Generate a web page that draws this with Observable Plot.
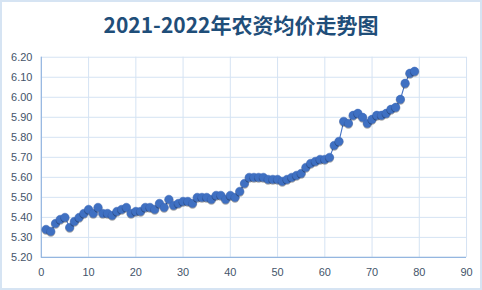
<!DOCTYPE html>
<html>
<head>
<meta charset="utf-8">
<script src="https://cdn.jsdelivr.net/npm/d3@7"></script>
<script src="https://cdn.jsdelivr.net/npm/@observablehq/plot@0.6"></script>
<style>
  html, body { margin: 0; padding: 0; background: #fff; }
  #wrap { position: relative; width: 482px; height: 290px; box-sizing: border-box; border: 2px solid #d6e4f3; overflow: hidden; }
  #title { position: absolute; left: 0; right: 0; top: 7px; text-align: center; font-family: "Noto Sans CJK SC", "Noto Sans", sans-serif; font-weight: bold; font-size: 21px; color: #1f4e79; line-height: 30px; }
  #chart { position: absolute; left: -2px; top: -2px; }
  #chart g[aria-label="dot"] circle { filter: drop-shadow(0.6px 1.2px 0.8px rgba(0,0,0,0.35)); }
</style>
</head>
<body>
<div id="wrap">
  <div id="title">2021-2022年农资均价走势图</div>
  <div id="chart"></div>
</div>
<script>
const periods = Array.from({length: 79}, (_, i) => i + 1);
const prices = [
  5.34, 5.33, 5.37, 5.39, 5.40, 5.35, 5.38, 5.40, 5.42, 5.44,
  5.42, 5.45, 5.42, 5.42, 5.41, 5.43, 5.44, 5.45, 5.42, 5.43,
  5.43, 5.45, 5.45, 5.44, 5.47, 5.45, 5.49, 5.46, 5.47, 5.48,
  5.48, 5.47, 5.50, 5.50, 5.50, 5.49, 5.51, 5.51, 5.49, 5.51,
  5.50, 5.53, 5.57, 5.60, 5.60, 5.60, 5.60, 5.59, 5.59, 5.59,
  5.58, 5.59, 5.60, 5.61, 5.62, 5.65, 5.67, 5.68, 5.69, 5.69,
  5.70, 5.76, 5.78, 5.88, 5.87, 5.91, 5.92, 5.90, 5.87, 5.89,
  5.91, 5.91, 5.92, 5.94, 5.95, 5.99, 6.07, 6.12, 6.13
];
const xTicks = [0, 10, 20, 30, 40, 50, 60, 70, 80, 90];
const yTicks = [5.20, 5.30, 5.40, 5.50, 5.60, 5.70, 5.80, 5.90, 6.00, 6.10, 6.20];

const data = periods.map((p, i) => ({x: p, y: prices[i]}));

const gridColor = "#d5e3f3";
const axisColor = "#94b6e0";
const labelColor = "#44546a";

const chart = Plot.plot({
  width: 482,
  height: 290,
  marginLeft: 41,
  marginRight: 14,
  marginTop: 57,
  marginBottom: 32,
  style: {fontFamily: "'Liberation Sans', 'DejaVu Sans', sans-serif", fontSize: "11px", color: labelColor, background: "transparent"},
  x: {domain: [0, 90], ticks: xTicks, tickSize: 0, tickPadding: 11, tickFormat: d3.format("d"), label: null},
  y: {domain: [5.20, 6.20], ticks: yTicks, tickSize: 0, tickPadding: 9, tickFormat: d3.format(".2f"), label: null},
  marks: [
    Plot.gridX(xTicks, {stroke: gridColor, strokeOpacity: 1, strokeWidth: 1}),
    Plot.gridY(yTicks, {stroke: gridColor, strokeOpacity: 1, strokeWidth: 1}),
    Plot.ruleY([5.20], {stroke: axisColor, strokeWidth: 1.2}),
    Plot.ruleX([0], {stroke: axisColor, strokeWidth: 1.2}),
    Plot.line(data, {x: "x", y: "y", stroke: "#4472c4", strokeWidth: 1.1}),
    Plot.dot(data, {x: "x", y: "y", r: 4.2, fill: "#3f70c2", stroke: "#3a68b8", strokeWidth: 0.5})
  ]
});
document.getElementById("chart").appendChild(chart);
</script>
</body>
</html>
